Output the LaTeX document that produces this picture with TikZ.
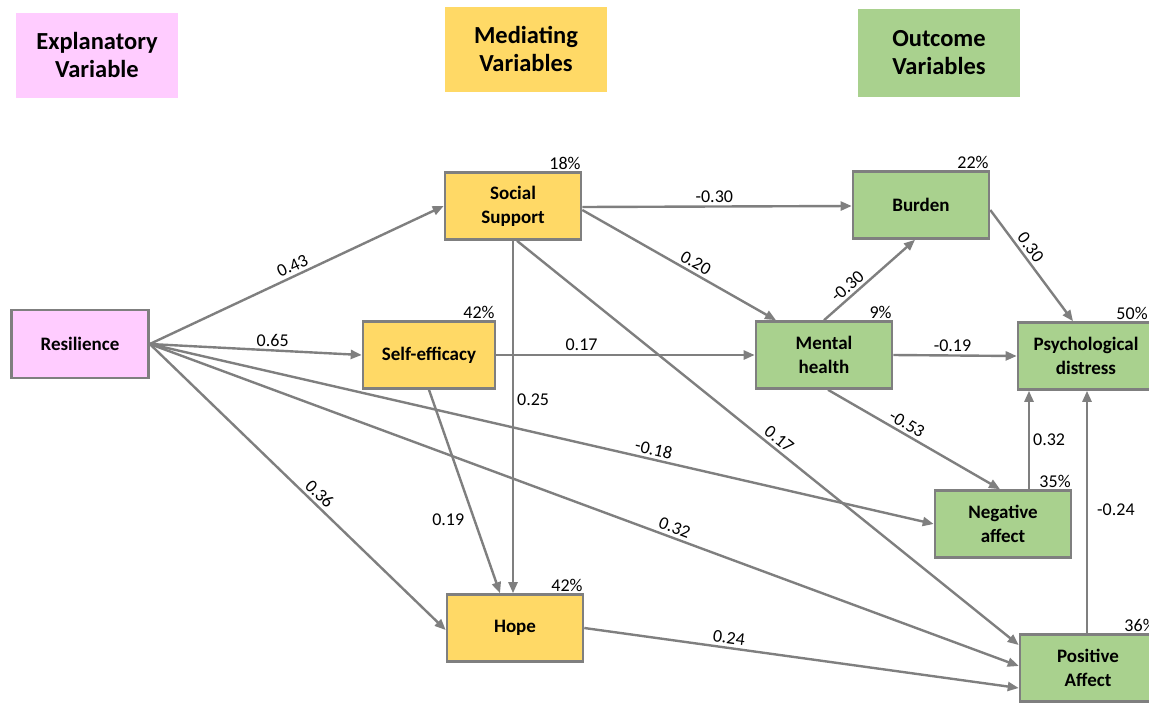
\documentclass[tikz,border=0pt]{standalone}
\usepackage{fontspec}
\setmainfont{Carlito}
\usetikzlibrary{arrows.meta}
\definecolor{edgegray}{HTML}{7F7F7F}
\definecolor{pinkf}{HTML}{FFCCFF}
\definecolor{yellowf}{HTML}{FFD966}
\definecolor{greenf}{HTML}{A9D18E}
\begin{document}
\begin{tikzpicture}[x=1pt,y=-1pt,
  box/.style={draw=edgegray, line width=2.6pt, minimum width=136pt, minimum height=67pt, align=center,
    font=\fontsize{19}{24}\selectfont\bfseries, inner sep=2pt},
  head/.style={minimum width=162pt, minimum height=85pt, align=center,
    font=\fontsize{24.5}{28}\selectfont\bfseries, inner sep=2pt},
  arr/.style={draw=edgegray, line width=2.4pt, -{Triangle[length=11pt,width=9pt]}},
  lab/.style={font=\fontsize{18}{20}\selectfont, inner sep=3pt},
  pct/.style={font=\fontsize{18}{20}\selectfont, anchor=south east, inner sep=1.5pt}]
\useasboundingbox (0,0) rectangle (1149,702);
% headers
\node[head, fill=pinkf] (hexp) at (97,55) {Explanatory\\Variable};
\node[head, fill=yellowf] (hmed) at (526,49) {Mediating\\Variables};
\node[head, fill=greenf, minimum height=88pt] (hout) at (939,53) {Outcome\\Variables};
% nodes
\node[box, fill=pinkf, minimum width=137pt, minimum height=68pt] (res) at (80,344) {Resilience};
\node[box, fill=yellowf] (ss) at (513,206) {Social\\Support};
\node[box, fill=yellowf, minimum width=132pt] (se) at (429,355) {Self-efficacy};
\node[box, fill=yellowf] (hope) at (515,628) {Hope};
\node[box, fill=greenf] (burden) at (921,205) {Burden};
\node[box, fill=greenf] (mh) at (824,355) {Mental\\health};
\node[box, fill=greenf] (pd) at (1086,356) {Psychological\\distress};
\node[box, fill=greenf] (na) at (1003,524) {Negative\\affect};
\node[box, fill=greenf] (pa) at (1088,668) {Positive\\Affect};
% percentages
\node[pct] (pss) at (ss.north east) {18\%};
\node[pct] (pse) at (se.north east) {42\%};
\node[pct] (phope) at (hope.north east) {42\%};
\node[pct] (pburden) at (burden.north east) {22\%};
\node[pct] (pmh) at (mh.north east) {9\%};
\node[pct, xshift=-6pt] (ppd) at (pd.north east) {50\%};
\node[pct] (pna) at (na.north east) {35\%};
\node[pct] (ppa) at (pa.north east) {36\%};
% edges from Resilience
\draw[arr] (res.east) -- node[lab, pos=0.5, sloped, above] {0.43} (ss.west);
\draw[arr] (res.east) -- node[lab, pos=0.58, above] {0.65} (se.west);
\draw[arr] (res.east) -- node[lab, pos=0.55, sloped, above] {0.36} ([yshift=-2pt]hope.west);
\draw[arr] (res.east) -- node[lab, pos=0.64, sloped, above] {-0.18} (na.west);
\draw[arr] (res.east) -- node[lab, pos=0.6, sloped, above] {0.32} ([yshift=2pt]pa.west);
% edges from Social Support
\draw[arr] ([yshift=-1pt]ss.east) -- node[lab, pos=0.49, above] {-0.30} ([yshift=-1pt]burden.west);
\draw[arr] ([yshift=-4pt]ss.east) -- node[lab, pos=0.56, sloped, above] {0.20} ([xshift=-48pt]mh.north);
\draw[arr] (ss.south) -- node[lab, pos=0.45, right] {0.25} (ss.south |- hope.north);
\draw[arr] ([xshift=4pt]ss.south) -- node[lab, pos=0.51, sloped, above] {0.17} ([yshift=23pt]pa.west);
% edges from Self-efficacy
\draw[arr] (se.east) -- node[lab, pos=0.33, above] {0.17} (mh.west);
\draw[arr] (se.south) -- node[lab, pos=0.64, left, xshift=-6pt] {0.19} ([xshift=-15pt]hope.north);
% edges from Mental health
\draw[arr] (mh.north) -- node[lab, pos=0.33, sloped, above] {-0.30} ([xshift=-6pt]burden.south);
\draw[arr] (mh.east) -- node[lab, pos=0.48, above] {-0.19} (pd.west);
\draw[arr] ([xshift=4pt]mh.south) -- node[lab, pos=0.43, sloped, above] {-0.53} ([xshift=-3pt]na.north);
% others
\draw[arr] ([yshift=-5pt]burden.east) -- node[lab, pos=0.39, sloped, above] {0.30} ([xshift=-13pt]pd.north);
\draw[arr] ([xshift=26pt]na.north) -- node[lab, pos=0.5, right] {0.32} ([xshift=26pt]na.north |- pd.south);
\draw[arr] ([xshift=-1pt]pa.north) -- node[lab, pos=0.51, right, xshift=6pt] {-0.24} ([xshift=-1pt]pa.north |- pd.south);
\draw[arr] (hope.east) -- node[lab, pos=0.33, sloped, above] {0.24} ([yshift=-20pt]pa.west);
\end{tikzpicture}
\end{document}
